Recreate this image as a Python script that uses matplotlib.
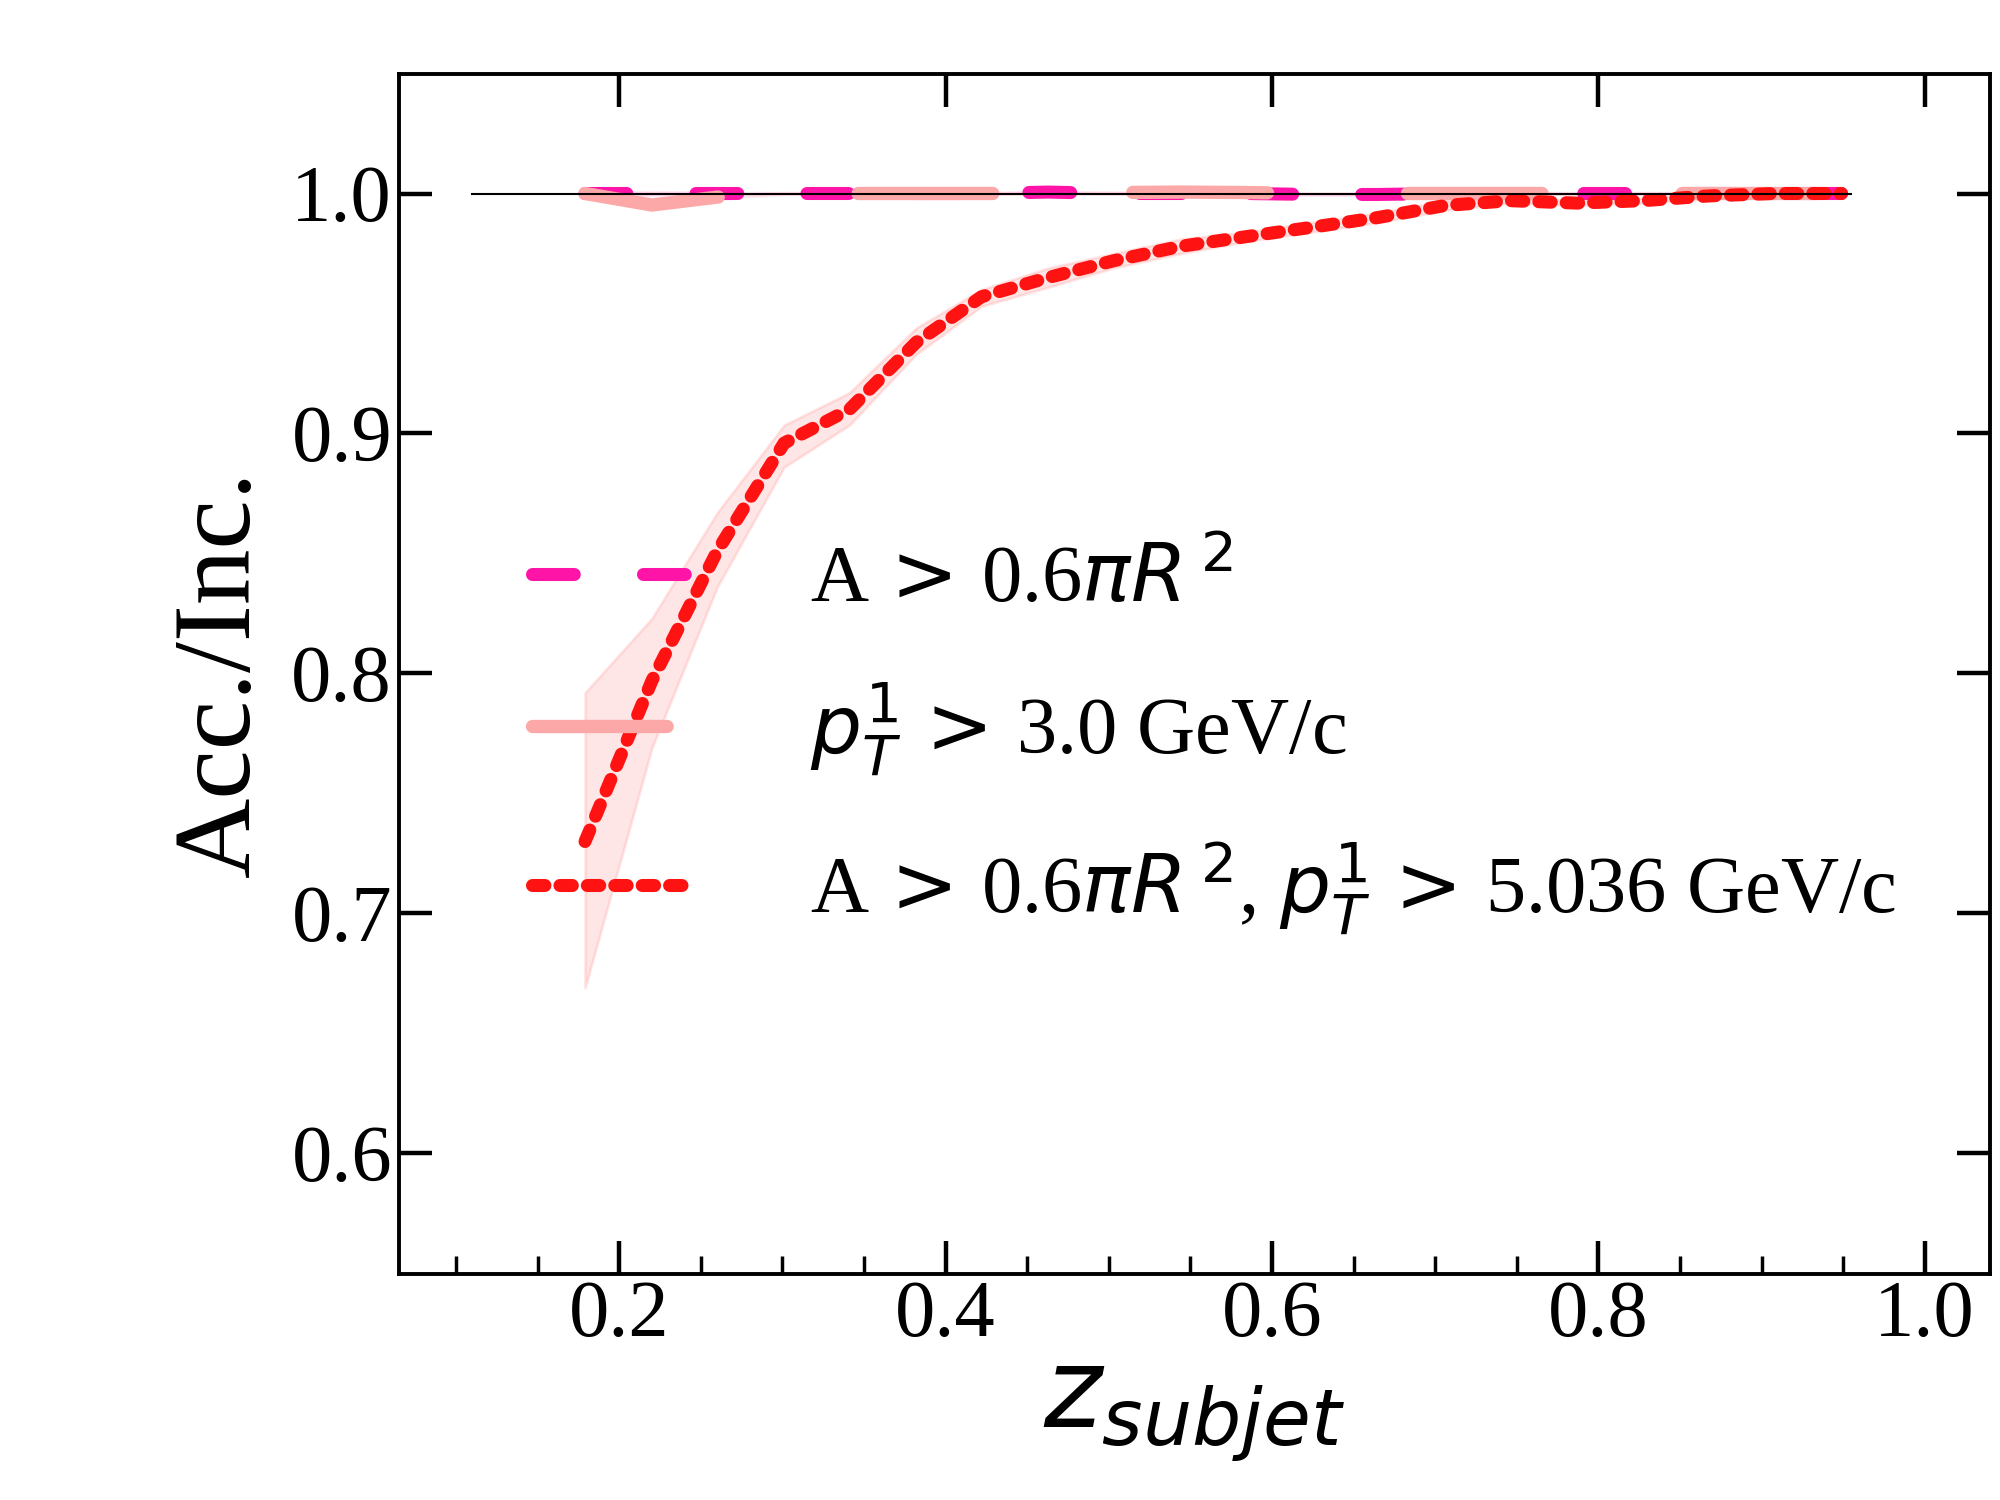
import numpy as np
import matplotlib
matplotlib.use("Agg")
import matplotlib.pyplot as plt
from matplotlib.ticker import MultipleLocator

plt.rcParams['font.family'] = ['Liberation Serif', 'DejaVu Serif']
plt.rcParams['mathtext.fontset'] = 'dejavusans'

# bin centres in z_subjet
z = [0.179, 0.220, 0.260, 0.301, 0.341, 0.382, 0.422, 0.463, 0.503, 0.544,
     0.584, 0.625, 0.665, 0.706, 0.746, 0.787, 0.827, 0.868, 0.908, 0.949]

# A > 0.6 pi R^2
area_val = [1.000, 1.000, 1.000, 1.000, 1.000, 1.000, 1.000, 1.0006, 1.000, 1.000,
            1.000, 0.9996, 0.9996, 1.000, 1.000, 1.000, 1.000, 1.000, 1.000, 1.000]
area_err = [0.0005, 0.0008, 0.0005, 0.0003, 0.0003, 0.0003, 0.0003, 0.0003, 0.0003, 0.0003,
            0.0003, 0.0003, 0.0003, 0.0003, 0.0003, 0.0003, 0.0003, 0.0003, 0.0003, 0.0003]

# leading pT > 3.0 GeV/c
pt_val = [1.000, 0.9952, 0.9985, 1.000, 1.000, 1.000, 1.000, 1.000, 1.0004, 1.0006,
          1.0004, 1.000, 1.000, 1.000, 1.000, 1.000, 1.000, 1.000, 1.000, 1.000]
pt_err = [0.0008, 0.0012, 0.0008, 0.0004, 0.0003, 0.0003, 0.0003, 0.0003, 0.0003, 0.0003,
          0.0003, 0.0003, 0.0003, 0.0003, 0.0003, 0.0003, 0.0003, 0.0003, 0.0003, 0.0003]

# both cuts
both_val = [0.730, 0.797, 0.851, 0.896, 0.910, 0.938, 0.957, 0.965, 0.972, 0.978,
            0.982, 0.986, 0.990, 0.995, 0.997, 0.996, 0.997, 0.999, 1.000, 1.000]
both_lo = [0.669, 0.769, 0.836, 0.886, 0.9035, 0.933, 0.953, 0.961, 0.969, 0.975,
           0.980, 0.984, 0.988, 0.993, 0.996, 0.995, 0.996, 0.998, 0.999, 0.9995]
both_hi = [0.792, 0.823, 0.867, 0.9035, 0.917, 0.944, 0.960, 0.969, 0.975, 0.981,
           0.984, 0.988, 0.992, 0.997, 0.998, 0.997, 0.998, 1.000, 1.001, 1.0005]

line_x = [0.11, 0.955]

c_area = '#ff14a8'
c_pt = '#fda8a8'
c_both = '#ff1212'

gt = r'$\!>\!$'
lab_area = r'A ' + gt + r' 0.6$\pi R^{\,2}$'
lab_pt = r'$p_T^1$ ' + gt + r' 3.0 GeV/c'
lab_both = r'A ' + gt + r' 0.6$\pi R^{\,2}$, $p_T^1$ ' + gt + r' 5.036 GeV/c'

fig = plt.figure(figsize=(20, 15), dpi=100)
ax = fig.add_axes([0.1995, 0.151, 0.7955, 0.8])

a_v = np.array(area_val); a_e = np.array(area_err)
p_v = np.array(pt_val); p_e = np.array(pt_err)

ax.fill_between(z, a_v - a_e, a_v + a_e, color=c_area, alpha=0.1, lw=2)
ax.plot(z, area_val, color=c_area, lw=9.4, dashes=(3.2, 5.3),
        dash_capstyle='round', label=lab_area)

ax.fill_between(z, p_v - p_e, p_v + p_e, color=c_pt, alpha=0.15, lw=2)
ax.plot(z, pt_val, color=c_pt, lw=9.6, dashes=(10.1, 10.5),
        dash_capstyle='round', label=lab_pt)

ax.fill_between(z, both_lo, both_hi, color=c_both, alpha=0.1, lw=2)
ax.plot(z, both_val, color=c_both, lw=9.4, dashes=(0.95, 1.15),
        dash_capstyle='round', label=lab_both)

ax.plot(line_x, [1.0, 1.0], color='black', lw=1.5, zorder=10)

ax.set_xlim(0.065, 1.04)
ax.set_ylim(0.55, 1.05)
ax.xaxis.set_major_locator(MultipleLocator(0.2))
ax.xaxis.set_minor_locator(MultipleLocator(0.05))
ax.yaxis.set_major_locator(MultipleLocator(0.1))

ax.tick_params(which='major', direction='in', length=24, width=3.2,
               top=True, right=True, labelsize=58, pad=5)
ax.tick_params(which='minor', direction='in', length=13, width=2.5,
               top=False, right=False)
for s in ax.spines.values():
    s.set_linewidth(2.8)

ax.set_xlabel(r'$z_{subjet}$', fontsize=80, labelpad=8)
ax.set_ylabel('Acc./Inc.', fontsize=80, labelpad=14)

ax.legend(loc='center left', bbox_to_anchor=(0.038, 0.445), frameon=False,
          fontsize=58, handlelength=2.0, handletextpad=1.45, labelspacing=0.75)

fig.savefig('out.png', dpi=100)
